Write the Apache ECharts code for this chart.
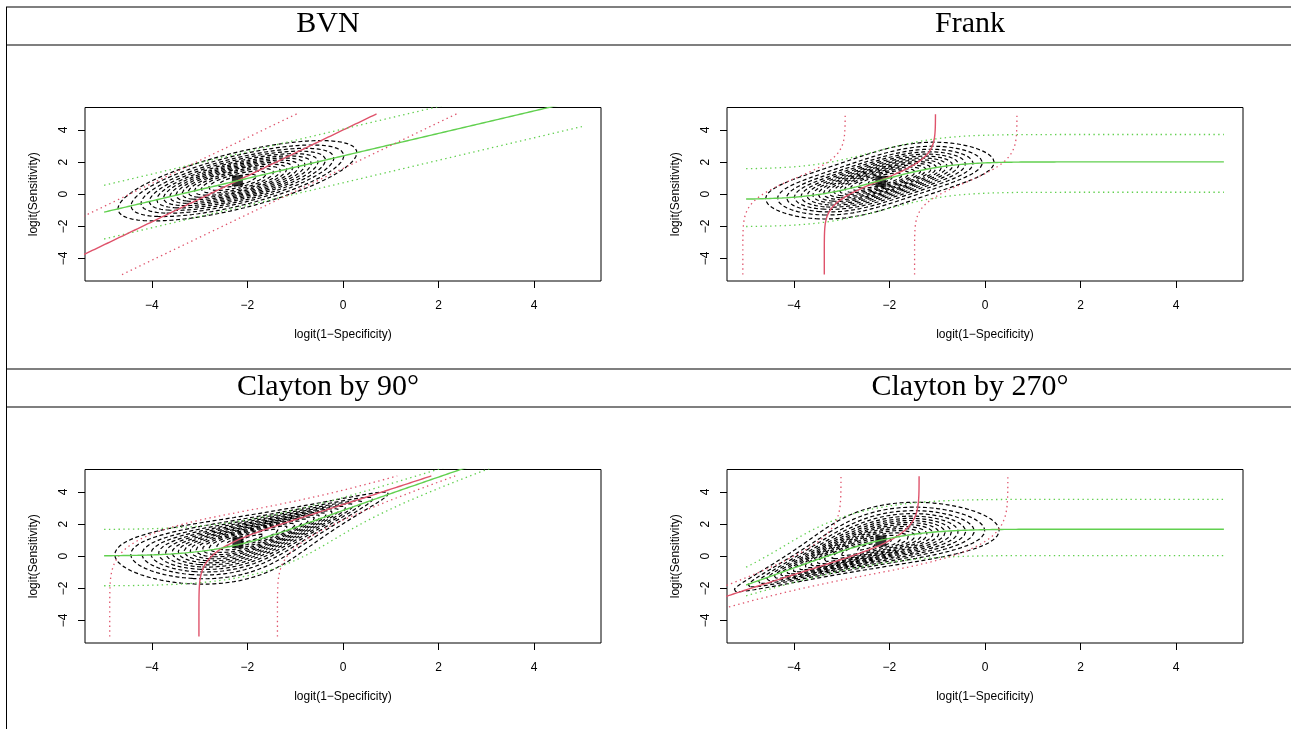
<!DOCTYPE html>
<html><head><meta charset="utf-8">
<script src="https://cdn.jsdelivr.net/npm/echarts@6/dist/echarts.min.js"></script>
<style>html,body{margin:0;padding:0;background:#fff;}#c{width:1291px;height:729px;}</style>
</head><body><div id="c"></div>
<script>
// ---------------- data ----------------
const panelTitles = ['BVN', 'Frank', 'Clayton by 90°', 'Clayton by 270°'];
const copulaFamilies = ['normal', 'frank', 'survivalClayton', 'clayton'];
const copulaParams = [0.70, 4.5, 1.7, 1.7];
const meanX = [-2.21, -2.2, -2.14, -2.25];
const meanY = [0.84, 0.85, 0.90, 0.81];
const sdX = [1.195, 1.13, 1.166, 1.16];
const sdY = [1.195, 1.13, 1.166, 1.162];
const summaryX = [-2.21, -2.18, -2.2, -2.18];
const summaryY = [0.84, 0.8, 0.85, 0.95];
const lowestContour = [0.0175, 0.018, 0.012, 0.014];
const contourStep = 0.01;
const contourCount = 30;
const quantileProbs = [0.025, 0.5, 0.975];
const curveRange = [-5, 5];
const tickValues = [-4, -2, 0, 2, 4];
const axisRange = [-5.4, 5.4];
const xLabel = 'logit(1\u2212Specificity)';
const yLabel = 'logit(Sensitivity)';

// ---------------- math helpers ----------------
function erfc(x){const z=Math.abs(x);const t=1/(1+0.5*z);
 const r=t*Math.exp(-z*z-1.26551223+t*(1.00002368+t*(0.37409196+t*(0.09678418+t*(-0.18628806+t*(0.27886807+t*(-1.13520398+t*(1.48851587+t*(-0.82215223+t*0.17087277)))))))));
 return x>=0?r:2-r;}
function pnorm(x){return 0.5*erfc(-x/Math.SQRT2);}
function qnorm(p){
 const a=[-3.969683028665376e+01,2.209460984245205e+02,-2.759285104469687e+02,1.383577518672690e+02,-3.066479806614716e+01,2.506628277459239e+00];
 const b=[-5.447609879822406e+01,1.615858368580409e+02,-1.556989798598866e+02,6.680131188771972e+01,-1.328068155288572e+01];
 const c=[-7.784894002430293e-03,-3.223964580411365e-01,-2.400758277161838e+00,-2.549732539343734e+00,4.374664141464968e+00,2.938163982698783e+00];
 const d=[7.784695709041462e-03,3.224671290700398e-01,2.445134137142996e+00,3.754408661907416e+00];
 const pl=0.02425;
 if(p<=0)return -Infinity; if(p>=1)return Infinity;
 if(p<pl){const q=Math.sqrt(-2*Math.log(p));return (((((c[0]*q+c[1])*q+c[2])*q+c[3])*q+c[4])*q+c[5])/((((d[0]*q+d[1])*q+d[2])*q+d[3])*q+1);}
 if(p>1-pl){const q=Math.sqrt(-2*Math.log(1-p));return -(((((c[0]*q+c[1])*q+c[2])*q+c[3])*q+c[4])*q+c[5])/((((d[0]*q+d[1])*q+d[2])*q+d[3])*q+1);}
 const q=p-0.5,r=q*q;return (((((a[0]*r+a[1])*r+a[2])*r+a[3])*r+a[4])*r+a[5])*q/(((((b[0]*r+b[1])*r+b[2])*r+b[3])*r+b[4])*r+1);}
function claytonHinv(th,p,u){return Math.pow((Math.pow(p,-th/(1+th))-1)*Math.pow(u,-th)+1,-1/th);}
function condZ(fam,th,a,p){
 if(fam==='normal')return th*a+Math.sqrt(1-th*th)*qnorm(p);
 if(fam==='frank'){const u=pnorm(a);const e=Math.exp(-th),eu=Math.exp(-th*u);
  const v=-Math.log(1+p*(e-1)/(p+(1-p)*eu))/th;return qnorm(v);}
 if(fam==='clayton'){return qnorm(claytonHinv(th,p,pnorm(a)));}
 return -qnorm(claytonHinv(th,1-p,pnorm(-a)));
}
function stdDens(fam,th,a,b){
 if(fam==='normal'){const q=1-th*th;return Math.exp(-(a*a-2*th*a*b+b*b)/(2*q))/(2*Math.PI*Math.sqrt(q));}
 if(Math.abs(a)>7||Math.abs(b)>7)return 0;
 const phi=Math.exp(-0.5*(a*a+b*b))/(2*Math.PI);
 if(fam==='frank'){const u=pnorm(a),v=pnorm(b);const e1=1-Math.exp(-th);
  const num=th*e1*Math.exp(-th*(u+v));const den=e1-(1-Math.exp(-th*u))*(1-Math.exp(-th*v));return num/(den*den)*phi;}
 let u,v;if(fam==='clayton'){u=pnorm(a);v=pnorm(b);}else{u=pnorm(-a);v=pnorm(-b);}
 if(u<=0||v<=0)return 0;
 const s=Math.pow(u,-th)+Math.pow(v,-th)-1;
 return (1+th)*Math.pow(u*v,-th-1)*Math.pow(s,-2-1/th)*phi;
}
function contourLines(xs,ys,z,level){
 const nx=xs.length,ny=ys.length,N=nx*ny;const pts=new Map();const segs=[];const adj=new Map();
 function hE(i,j){const id=j*nx+i;if(!pts.has(id)){const z0=z[j*nx+i],z1=z[j*nx+i+1];const t=(level-z0)/(z1-z0);pts.set(id,[xs[i]+t*(xs[i+1]-xs[i]),ys[j]]);}return id;}
 function vE(i,j){const id=N+j*nx+i;if(!pts.has(id)){const z0=z[j*nx+i],z1=z[(j+1)*nx+i];const t=(level-z0)/(z1-z0);pts.set(id,[xs[i],ys[j]+t*(ys[j+1]-ys[j])]);}return id;}
 function add(e1,e2){const k=segs.length;segs.push([e1,e2]);for(const e of [e1,e2]){let l=adj.get(e);if(!l){l=[];adj.set(e,l);}l.push(k);}}
 for(let j=0;j<ny-1;j++)for(let i=0;i<nx-1;i++){
  const z00=z[j*nx+i],z10=z[j*nx+i+1],z01=z[(j+1)*nx+i],z11=z[(j+1)*nx+i+1];
  let c=0;if(z00>level)c|=1;if(z10>level)c|=2;if(z11>level)c|=4;if(z01>level)c|=8;
  if(c===0||c===15)continue;
  const B=()=>hE(i,j),T=()=>hE(i,j+1),L=()=>vE(i,j),R=()=>vE(i+1,j);
  switch(c){
   case 1:case 14:add(L(),B());break;
   case 2:case 13:add(B(),R());break;
   case 3:case 12:add(L(),R());break;
   case 4:case 11:add(R(),T());break;
   case 6:case 9:add(B(),T());break;
   case 7:case 8:add(L(),T());break;
   case 5:{const m=(z00+z10+z01+z11)/4;if(m>level){add(L(),T());add(B(),R());}else{add(L(),B());add(R(),T());}break;}
   case 10:{const m=(z00+z10+z01+z11)/4;if(m>level){add(L(),B());add(R(),T());}else{add(B(),R());add(L(),T());}break;}
  }
 }
 const used=new Uint8Array(segs.length);const lines=[];
 function walk(cur){const out=[];while(true){const l=adj.get(cur);let n=-1;for(const t of l)if(!used[t]){n=t;break;}if(n<0)break;used[n]=1;const o=segs[n][0]===cur?segs[n][1]:segs[n][0];out.push(o);cur=o;}return out;}
 for(let s=0;s<segs.length;s++){if(used[s])continue;used[s]=1;
  const fwd=walk(segs[s][1]);const bwd=walk(segs[s][0]);
  const chain=bwd.reverse().concat([segs[s][0],segs[s][1]],fwd);
  lines.push(chain.map(e=>pts.get(e)));}
 return lines;
}

// ---------------- layout ----------------
const grids=[{left:85,top:107.5,width:516,height:173.5},{left:727,top:107.5,width:516,height:173.5},
             {left:85,top:469.5,width:516,height:173.5},{left:727,top:469.5,width:516,height:173.5}];
const RED='#DF536B',GREEN='#61D04F';
const fmt=v=>String(v).replace('-','\u2212');
const FONT='Liberation Sans, Arial, sans-serif';

const series=[];const xAxes=[];const yAxes=[];
const step=0.03;const xs=[],ys=[];
for(let v=axisRange[0];v<=axisRange[1]+1e-9;v+=step){xs.push(v);ys.push(v);}
for(let k=0;k<4;k++){
 const fam=copulaFamilies[k],th=copulaParams[k],mx=meanX[k],my=meanY[k],sx=sdX[k],sy=sdY[k];
 const z=new Float64Array(xs.length*ys.length);
 for(let j=0;j<ys.length;j++)for(let i=0;i<xs.length;i++)z[j*xs.length+i]=stdDens(fam,th,(xs[i]-mx)/sx,(ys[j]-my)/sy)/(sx*sy);
 for(let l=0;l<contourCount;l++){
  const lev=lowestContour[k]+l*contourStep;
  const lines=contourLines(xs,ys,z,lev);
  for(const ln of lines){
   if(ln.length<2)continue;
   series.push({type:'line',xAxisIndex:k,yAxisIndex:k,data:ln,symbol:'none',silent:true,clip:true,
    lineStyle:{color:'#000',width:1.2,type:[4,2.6]},z:2});
  }
 }
 series.push({type:'scatter',xAxisIndex:k,yAxisIndex:k,data:[[summaryX[k],summaryY[k]]],symbol:'rect',symbolSize:11,
   itemStyle:{color:'#000'},silent:true,z:3});
 const nPts=401;
 for(const p of quantileProbs){
  const g=[],r=[];
  for(let i=0;i<nPts;i++){const t=curveRange[0]+(curveRange[1]-curveRange[0])*i/(nPts-1);
   g.push([t,my+sy*condZ(fam,th,(t-mx)/sx,p)]);
   r.push([mx+sx*condZ(fam,th,(t-my)/sy,p),t]);}
  const solid=(p===0.5);
  series.push({type:'line',xAxisIndex:k,yAxisIndex:k,data:r,symbol:'none',silent:true,clip:true,
   lineStyle:{color:RED,width:solid?1.4:1.3,type:solid?'solid':[1.4,3.4]},z:4});
  series.push({type:'line',xAxisIndex:k,yAxisIndex:k,data:g,symbol:'none',silent:true,clip:true,
   lineStyle:{color:GREEN,width:solid?1.4:1.3,type:solid?'solid':[1.4,3.4]},z:4});
 }
 xAxes.push({type:'value',gridIndex:k,min:axisRange[0],max:axisRange[1],
  axisLine:{show:false,onZero:false},splitLine:{show:false},
  axisTick:{show:true,inside:false,length:7,lineStyle:{color:'#000',width:1},customValues:tickValues},
  axisLabel:{customValues:tickValues,formatter:fmt,color:'#000',fontSize:12,fontFamily:FONT,margin:19},
  name:xLabel,nameLocation:'middle',nameGap:48,nameTextStyle:{color:'#000',fontSize:12,fontFamily:FONT}});
 yAxes.push({type:'value',gridIndex:k,min:axisRange[0],max:axisRange[1],
  axisLine:{show:false,onZero:false},splitLine:{show:false},
  axisTick:{show:true,inside:false,length:7,lineStyle:{color:'#000',width:1},customValues:tickValues},
  axisLabel:{customValues:tickValues,formatter:fmt,color:'#000',fontSize:12,rotate:90,fontFamily:FONT,margin:15},
  name:yLabel,nameLocation:'middle',nameGap:45,nameTextStyle:{color:'#000',fontSize:12,fontFamily:FONT}});
}

const titlePos=[[328,24],[970,24],[328,387],[970,387]];
const graphic=[];
const hLines=[7,45,369,407];
for(const y of hLines)graphic.push({type:'line',shape:{x1:6,y1:y,x2:1291,y2:y},style:{stroke:'#555',lineWidth:1.6},silent:true});
graphic.push({type:'line',shape:{x1:6.5,y1:7,x2:6.5,y2:729},style:{stroke:'#000',lineWidth:1},silent:true});
for(let k=0;k<4;k++)graphic.push({type:'text',x:titlePos[k][0],y:titlePos[k][1],silent:true,
 style:{text:panelTitles[k],fill:'#000',fontSize:30,fontFamily:'Liberation Serif, Times New Roman, serif',align:'center',verticalAlign:'middle'}});

const chart=echarts.init(document.getElementById('c'),null,{renderer:'canvas'});
chart.setOption({animation:false,backgroundColor:'#fff',
 grid:grids.map(g=>Object.assign({show:true,borderColor:'#000',borderWidth:1,backgroundColor:'transparent',containLabel:false},g)),
 xAxis:xAxes,yAxis:yAxes,series:series,graphic:graphic});
</script></body></html>
